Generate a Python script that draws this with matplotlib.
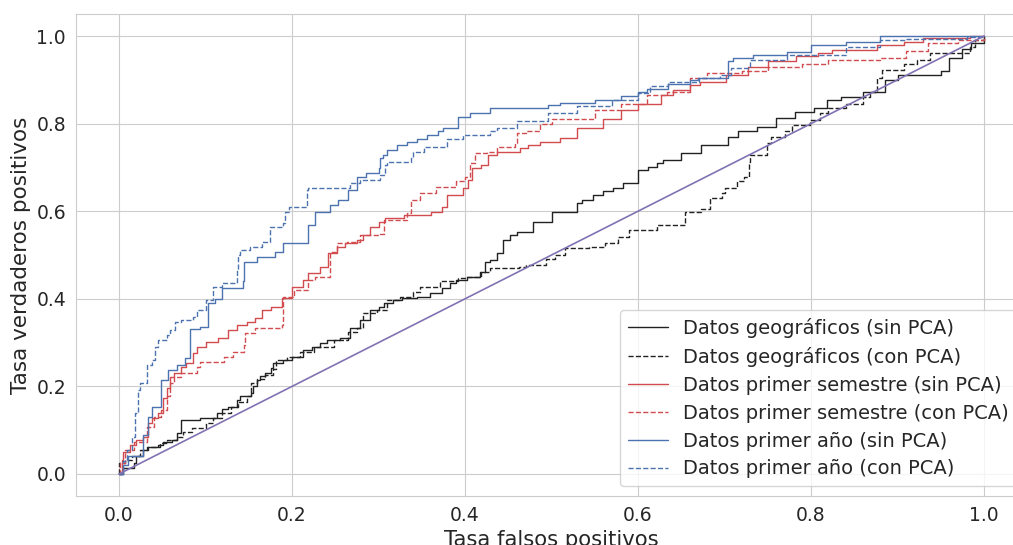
import numpy as np
import matplotlib
matplotlib.use("Agg")
import matplotlib.pyplot as plt
import seaborn as sns

# ROC points: (fpr where tpr jumps, tpr after the jump)
fpr_geo = [0, 0.005, 0.017, 0.02, 0.028, 0.032, 0.045, 0.051, 0.061, 0.067, 0.072, 0.094, 0.113, 0.119,
           0.126, 0.136, 0.14, 0.153, 0.155, 0.159, 0.163, 0.169, 0.176, 0.178, 0.19, 0.2, 0.213, 0.223,
           0.232, 0.24, 0.255, 0.267, 0.279, 0.29, 0.30, 0.306, 0.317, 0.327, 0.344, 0.36, 0.373, 0.383,
           0.39, 0.402, 0.417, 0.423, 0.429, 0.437, 0.444, 0.452, 0.46, 0.479, 0.5, 0.529, 0.535, 0.548,
           0.56, 0.571, 0.583, 0.6, 0.612, 0.622, 0.629, 0.65, 0.673, 0.704, 0.716, 0.737, 0.76, 0.782,
           0.803, 0.818, 0.835, 0.86, 0.886, 0.9, 0.95, 0.96, 0.975, 0.985, 1.0]
tpr_geo = [0, 0.013, 0.024, 0.04, 0.055, 0.062, 0.066, 0.074, 0.078, 0.093, 0.123, 0.127, 0.139, 0.148,
           0.154, 0.169, 0.177, 0.184, 0.2, 0.215, 0.224, 0.23, 0.241, 0.253, 0.26, 0.268, 0.283, 0.29,
           0.298, 0.306, 0.31, 0.333, 0.352, 0.374, 0.382, 0.39, 0.397, 0.401, 0.405, 0.413, 0.424, 0.435,
           0.443, 0.45, 0.462, 0.485, 0.489, 0.504, 0.534, 0.546, 0.553, 0.576, 0.599, 0.618, 0.626, 0.637,
           0.645, 0.652, 0.664, 0.694, 0.702, 0.709, 0.717, 0.732, 0.751, 0.77, 0.782, 0.793, 0.812, 0.827,
           0.835, 0.854, 0.861, 0.873, 0.90, 0.91, 0.92, 0.95, 0.97, 0.985, 1.0]

fpr_geo_pca = [0, 0.0, 0.007, 0.015, 0.024, 0.034, 0.047, 0.055, 0.067, 0.074, 0.084, 0.101, 0.109, 0.119,
               0.13, 0.138, 0.148, 0.153, 0.159, 0.169, 0.178, 0.182, 0.194, 0.209, 0.225, 0.248, 0.265,
               0.275, 0.282, 0.298, 0.31, 0.325, 0.34, 0.348, 0.371, 0.392, 0.402, 0.419, 0.429, 0.462,
               0.471, 0.494, 0.504, 0.516, 0.543, 0.562, 0.577, 0.589, 0.622, 0.654, 0.673, 0.683, 0.697,
               0.701, 0.714, 0.722, 0.728, 0.729, 0.749, 0.754, 0.77, 0.778, 0.799, 0.81, 0.82, 0.841, 0.86,
               0.868, 0.876, 0.882, 0.907, 0.922, 0.937, 0.984, 0.99, 1.0]
tpr_geo_pca = [0, 0.024, 0.032, 0.04, 0.055, 0.062, 0.07, 0.078, 0.085, 0.097, 0.104, 0.116, 0.127, 0.139,
               0.154, 0.165, 0.177, 0.207, 0.218, 0.226, 0.24, 0.26, 0.268, 0.279, 0.29, 0.306, 0.325,
               0.333, 0.367, 0.375, 0.397, 0.405, 0.416, 0.428, 0.44, 0.447, 0.45, 0.462, 0.47, 0.473,
               0.477, 0.492, 0.5, 0.515, 0.519, 0.527, 0.542, 0.557, 0.568, 0.599, 0.606, 0.63, 0.641,
               0.652, 0.668, 0.679, 0.713, 0.728, 0.755, 0.77, 0.782, 0.797, 0.808, 0.824, 0.835, 0.845, 0.861,
               0.873, 0.903, 0.922, 0.937, 0.945, 0.961, 0.976, 0.99, 1.0]

fpr_sem = [0, 0.003, 0.005, 0.013, 0.02, 0.028, 0.033, 0.038, 0.045, 0.051, 0.055, 0.059, 0.063, 0.072,
           0.078, 0.086, 0.09, 0.101, 0.115, 0.126, 0.136, 0.148, 0.157, 0.165, 0.176, 0.188, 0.2, 0.213,
           0.219, 0.232, 0.242, 0.252, 0.261, 0.275, 0.282, 0.29, 0.30, 0.308, 0.329, 0.361, 0.373, 0.379,
           0.398, 0.404, 0.408, 0.419, 0.427, 0.437, 0.464, 0.473, 0.487, 0.51, 0.53, 0.56, 0.58, 0.6,
           0.627, 0.641, 0.66, 0.672, 0.702, 0.727, 0.75, 0.783, 0.808, 0.824, 0.876, 0.907, 0.93, 0.984, 1.0]
tpr_sem = [0, 0.032, 0.051, 0.066, 0.078, 0.085, 0.116, 0.127, 0.139, 0.173, 0.196, 0.222, 0.23, 0.245,
           0.253, 0.276, 0.29, 0.302, 0.31, 0.329, 0.34, 0.348, 0.356, 0.374, 0.382, 0.401, 0.428, 0.443,
           0.458, 0.473, 0.504, 0.519, 0.527, 0.534, 0.546, 0.565, 0.576, 0.584, 0.591, 0.599, 0.61, 0.637,
           0.652, 0.671, 0.698, 0.705, 0.728, 0.736, 0.744, 0.751, 0.759, 0.768, 0.79, 0.81, 0.83, 0.845,
           0.865, 0.877, 0.888, 0.896, 0.911, 0.93, 0.942, 0.954, 0.961, 0.968, 0.98, 0.987, 0.995, 1.0, 1.0]

fpr_sem_pca = [0, 0.001, 0.007, 0.017, 0.032, 0.04, 0.049, 0.055, 0.059, 0.063, 0.072, 0.09, 0.094, 0.121,
               0.132, 0.144, 0.146, 0.157, 0.188, 0.19, 0.202, 0.219, 0.227, 0.244, 0.252, 0.263, 0.279,
               0.302, 0.306, 0.333, 0.337, 0.348, 0.367, 0.39, 0.40, 0.406, 0.412, 0.425, 0.437, 0.458,
               0.46, 0.471, 0.487, 0.5, 0.55, 0.58, 0.61, 0.633, 0.66, 0.68, 0.72, 0.75, 0.79, 0.82, 0.88,
               0.91, 0.935, 0.97, 1.0]
tpr_sem_pca = [0, 0.025, 0.055, 0.074, 0.108, 0.131, 0.146, 0.177, 0.207, 0.222, 0.23, 0.245, 0.256, 0.268,
               0.279, 0.295, 0.321, 0.333, 0.34, 0.405, 0.42, 0.443, 0.45, 0.508, 0.527, 0.53, 0.546,
               0.549, 0.58, 0.595, 0.626, 0.641, 0.656, 0.668, 0.679, 0.709, 0.732, 0.736, 0.747, 0.755,
               0.778, 0.782, 0.80, 0.81, 0.83, 0.845, 0.865, 0.873, 0.905, 0.915, 0.92, 0.93, 0.935, 0.945, 0.95,
               0.965, 0.985, 0.99, 1.0]

fpr_ano = [0, 0.005, 0.01, 0.028, 0.033, 0.038, 0.049, 0.057, 0.067, 0.076, 0.082, 0.094, 0.103, 0.111,
           0.119, 0.143, 0.145, 0.159, 0.18, 0.19, 0.219, 0.227, 0.244, 0.253, 0.265, 0.275, 0.286, 0.30,
           0.302, 0.305, 0.31, 0.321, 0.333, 0.344, 0.356, 0.369, 0.375, 0.392, 0.406, 0.429, 0.496, 0.51,
           0.55, 0.58, 0.60, 0.61, 0.635, 0.66, 0.669, 0.704, 0.71, 0.733, 0.772, 0.80, 0.841, 0.88, 1.0]
tpr_ano = [0, 0.02, 0.04, 0.09, 0.13, 0.154, 0.215, 0.237, 0.249, 0.265, 0.33, 0.336, 0.39, 0.40,
           0.425, 0.44, 0.485, 0.496, 0.508, 0.527, 0.568, 0.599, 0.614, 0.626, 0.648, 0.679, 0.687, 0.698,
           0.721, 0.728, 0.74, 0.751, 0.759, 0.766, 0.774, 0.782, 0.789, 0.816, 0.824, 0.836, 0.842, 0.848,
           0.855, 0.864, 0.872, 0.88, 0.89, 0.90, 0.905, 0.942, 0.95, 0.957, 0.963, 0.98, 0.987, 1.0, 1.0]

fpr_ano_pca = [0, 0.005, 0.009, 0.015, 0.018, 0.022, 0.024, 0.032, 0.038, 0.042, 0.045, 0.055, 0.059, 0.065,
               0.072, 0.086, 0.09, 0.101, 0.109, 0.119, 0.136, 0.138, 0.14, 0.151, 0.165, 0.175, 0.19,
               0.192, 0.196, 0.217, 0.219, 0.267, 0.279, 0.302, 0.308, 0.31, 0.338, 0.34, 0.352, 0.379,
               0.398, 0.429, 0.437, 0.46, 0.496, 0.53, 0.57, 0.6, 0.614, 0.635, 0.67, 0.695, 0.708, 0.73,
               0.772, 0.841, 0.88, 0.909, 0.98, 1.0]
tpr_ano_pca = [0, 0.03, 0.055, 0.085, 0.139, 0.192, 0.207, 0.249, 0.26, 0.29, 0.306, 0.317, 0.329, 0.348,
               0.352, 0.359, 0.374, 0.397, 0.428, 0.435, 0.466, 0.50, 0.511, 0.519, 0.53, 0.565, 0.572,
               0.599, 0.61, 0.648, 0.652, 0.664, 0.671, 0.683, 0.705, 0.713, 0.721, 0.736, 0.747, 0.766,
               0.774, 0.782, 0.789, 0.805, 0.824, 0.84, 0.855, 0.87, 0.886, 0.896, 0.903, 0.911, 0.926, 0.945,
               0.957, 0.976, 0.99, 0.994, 0.998, 1.0]

diag = [0, 1]

sns.set_style("whitegrid")
plt.rcParams["font.family"] = ["DejaVu Sans"]

fig = plt.figure(figsize=(10.13, 5.45), dpi=100)
ax = fig.add_axes([0.0748, 0.0901, 0.9393, 0.884])

lw = 1.0
ax.plot(fpr_geo, tpr_geo, color="#222222", lw=lw, drawstyle="steps-post", label="Datos geográficos (sin PCA)")
ax.plot(fpr_geo_pca, tpr_geo_pca, color="#222222", lw=lw, ls="--", drawstyle="steps-post", label="Datos geográficos (con PCA)")
ax.plot(fpr_sem, tpr_sem, color="#d24b4e", lw=lw, drawstyle="steps-post", label="Datos primer semestre (sin PCA)")
ax.plot(fpr_sem_pca, tpr_sem_pca, color="#d24b4e", lw=lw, ls="--", drawstyle="steps-post", label="Datos primer semestre (con PCA)")
ax.plot(fpr_ano, tpr_ano, color="#4c72b0", lw=lw, drawstyle="steps-post", label="Datos primer año (sin PCA)")
ax.plot(fpr_ano_pca, tpr_ano_pca, color="#4c72b0", lw=lw, ls="--", drawstyle="steps-post", label="Datos primer año (con PCA)")
ax.plot(diag, diag, color="#8172b3", lw=1.2)

ax.set_xlim(-0.05, 1.05)
ax.set_ylim(-0.05, 1.05)
ax.tick_params(labelsize=13.5)
ax.set_xlabel("Tasa falsos positivos", fontsize=15.2)
ax.set_ylabel("Tasa verdaderos positivos", fontsize=15.5)

ax.legend(loc="lower left", bbox_to_anchor=(0.572, 0.02), borderaxespad=0,
          fontsize=14, labelspacing=0.46, handlelength=2.05, frameon=True)

fig.savefig("out.png", dpi=100)
